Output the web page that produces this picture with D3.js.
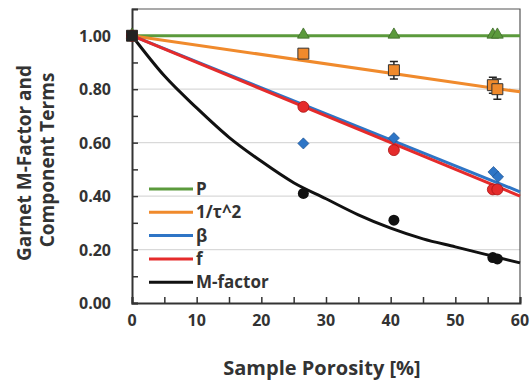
<!DOCTYPE html>
<html>
<head>
<meta charset="utf-8">
<script src="https://cdn.jsdelivr.net/npm/d3@7"></script>
<style>
  body { margin: 0; background: #fff; }
  svg { font-family: "Open Sans", sans-serif; font-weight: bold; }
</style>
</head>
<body>
<svg id="canvas" width="532" height="381"></svg>
<script>
// sample positions [%]
let porosity = [0, 26.5, 40.5, 55.8, 56.5]

// measured points
let pVals = [1.0, 1.0, 1.0, 1.0, 1.0]
let tauVals = [1.0, 0.933, 0.871, 0.815, 0.80]
let tauErr = [0, 0.01, 0.033, 0.03, 0.038]
let betaX = [0, 26.5, 40.5, 55.9, 56.6]
let betaVals = [1.0, 0.597, 0.617, 0.49, 0.472]
let fVals = [1.0, 0.734, 0.572, 0.425, 0.425]
let mVals = [1.0, 0.41, 0.31, 0.17, 0.165]

// fitted lines
let lineX = [0, 60]
let pLine = [1.0, 1.0]
let tauLine = [1.0, 0.79]
let betaLine = [1.0, 0.416]
let fLine = [1.0, 0.40]
let mCurveX = [0, 5, 10, 15, 20, 25, 30, 35, 40, 45, 50, 55, 60]
let mCurve = [1.0, 0.85, 0.73, 0.62, 0.53, 0.45, 0.39, 0.33, 0.28, 0.24, 0.21, 0.18, 0.15]

let xTicks = [0, 10, 20, 30, 40, 50, 60]
let yTicks = [0, 0.2, 0.4, 0.6, 0.8, 1.0]

let legendNames = ['P', '1/\u03c4^2', '\u03b2', 'f', 'M-factor']
let colors = ['#5b9a3c', '#f08a2c', '#2e75c6', '#e52b2b', '#111111']

let canvas = d3.select('#canvas')

let x = d3.scaleLinear().domain([0, 60]).range([132, 520])
let y = d3.scaleLinear().domain([0, 1.1]).range([303, 9])

// gridlines
canvas.selectAll('.grid')
    .data([0.2, 0.4, 0.6, 0.8])
    .enter()
    .append('line')
    .attr('x1', x(0)).attr('x2', x(60))
    .attr('y1', d => y(d)).attr('y2', d => y(d))
    .attr('stroke', '#d9d9d9')
    .attr('stroke-width', 1.2)

// frame top/right
canvas.append('path')
    .attr('d', `M${x(0)},${y(1.1)}H${x(60)}V${y(0)}`)
    .attr('fill', 'none')
    .attr('stroke', '#555')
    .attr('stroke-width', 1.2)

// axes
let xAxis = d3.axisBottom(x).tickValues(d3.range(0, 61, 5)).tickSize(-6).tickFormat('')
canvas.append('g')
    .attr('transform', `translate(0,${y(0)})`)
    .call(xAxis)
    .call(g => g.select('.domain').attr('stroke', '#333').attr('stroke-width', 2))
    .call(g => g.selectAll('.tick line').attr('stroke', '#333').attr('stroke-width', 1.5))

let yAxis = d3.axisLeft(y).tickValues(d3.range(0, 11).map(d => d / 10)).tickSize(-6).tickFormat('')
canvas.append('g')
    .attr('transform', `translate(${x(0)},0)`)
    .call(yAxis)
    .call(g => g.select('.domain').attr('stroke', '#333').attr('stroke-width', 2))
    .call(g => g.selectAll('.tick line').attr('stroke', '#333').attr('stroke-width', 1.5))

// tick labels
canvas.selectAll('.xl')
    .data(xTicks)
    .enter()
    .append('text')
    .attr('x', d => x(d))
    .attr('y', 326)
    .attr('text-anchor', 'middle')
    .attr('font-size', 16)
    .attr('fill', '#333')
    .text(d => d)

canvas.selectAll('.yl')
    .data(yTicks)
    .enter()
    .append('text')
    .attr('x', 111)
    .attr('y', d => y(d) + 6)
    .attr('text-anchor', 'end')
    .attr('font-size', 16)
    .attr('fill', '#333')
    .text(d => d.toFixed(2))

// axis titles
canvas.append('text')
    .attr('x', 322)
    .attr('y', 375)
    .attr('text-anchor', 'middle')
    .attr('font-size', 20)
    .attr('fill', '#333')
    .text('Sample Porosity [%]')

canvas.append('text')
    .attr('transform', 'translate(31,163) rotate(-90)')
    .attr('text-anchor', 'middle')
    .attr('font-size', 19)
    .attr('fill', '#333')
    .text('Garnet M-Factor and')

canvas.append('text')
    .attr('transform', 'translate(54,160) rotate(-90)')
    .attr('text-anchor', 'middle')
    .attr('font-size', 19)
    .attr('fill', '#333')
    .text('Component Terms')

// lines
let line = d3.line().x(d => x(d[0])).y(d => y(d[1]))
let curve = d3.line().x(d => x(d[0])).y(d => y(d[1])).curve(d3.curveMonotoneX)

let lines = [pLine, tauLine, betaLine, fLine]
lines.forEach((vals, i) => {
    canvas.append('path')
        .attr('d', line(d3.zip(lineX, vals)))
        .attr('fill', 'none')
        .attr('stroke', colors[i])
        .attr('stroke-width', 3)
})
canvas.append('path')
    .attr('d', curve(d3.zip(mCurveX, mCurve)))
    .attr('fill', 'none')
    .attr('stroke', colors[4])
    .attr('stroke-width', 3)

// error bars on 1/tau^2
let errG = canvas.append('g')
porosity.forEach((px, i) => {
    if (tauErr[i] <= 0) return
    let cx = x(px)
    let y1 = y(tauVals[i] + tauErr[i])
    let y2 = y(tauVals[i] - tauErr[i])
    errG.append('path')
        .attr('d', `M${cx},${y1}V${y2}M${cx - 4},${y1}H${cx + 4}M${cx - 4},${y2}H${cx + 4}`)
        .attr('stroke', '#222')
        .attr('stroke-width', 1.5)
        .attr('fill', 'none')
})

// markers
let tri = d3.symbol().type(d3.symbolTriangle).size(60)
let sq = d3.symbol().type(d3.symbolSquare).size(120)
let dia = d3.symbol().type(d3.symbolSquare).size(62)

canvas.selectAll('.pm')
    .data(d3.zip(porosity, pVals))
    .enter()
    .append('path')
    .attr('d', tri)
    .attr('transform', d => `translate(${x(d[0])},${y(d[1]) - 1})`)
    .attr('fill', colors[0])
    .attr('stroke', '#3d6b27')
    .attr('stroke-width', 0.8)

canvas.selectAll('.tm')
    .data(d3.zip(porosity, tauVals))
    .enter()
    .append('path')
    .attr('d', sq)
    .attr('transform', d => `translate(${x(d[0])},${y(d[1])})`)
    .attr('fill', colors[1])
    .attr('stroke', '#333')
    .attr('stroke-width', 1)

canvas.selectAll('.bm')
    .data(d3.zip(betaX, betaVals))
    .enter()
    .append('path')
    .attr('d', dia)
    .attr('transform', d => `translate(${x(d[0])},${y(d[1])}) rotate(45)`)
    .attr('fill', colors[2])
    .attr('stroke', '#1d4f8c')
    .attr('stroke-width', 0.6)

canvas.selectAll('.fm')
    .data(d3.zip(porosity, fVals))
    .enter()
    .append('circle')
    .attr('cx', d => x(d[0]))
    .attr('cy', d => y(d[1]))
    .attr('r', 5.5)
    .attr('fill', colors[3])
    .attr('stroke', '#a11')
    .attr('stroke-width', 0.8)

canvas.selectAll('.mm')
    .data(d3.zip(porosity, mVals))
    .enter()
    .append('circle')
    .attr('cx', d => x(d[0]))
    .attr('cy', d => y(d[1]))
    .attr('r', 5.5)
    .attr('fill', colors[4])

// origin marker drawn on top as a dark square
canvas.append('path')
    .attr('d', sq)
    .attr('transform', `translate(${x(0)},${y(1)})`)
    .attr('fill', '#222')

// legend
let leg = canvas.append('g')
legendNames.forEach((name, i) => {
    let ly = 189 + i * 23.3
    leg.append('line')
        .attr('x1', 149).attr('x2', 193)
        .attr('y1', ly).attr('y2', ly)
        .attr('stroke', colors[i])
        .attr('stroke-width', 3)
    leg.append('text')
        .attr('x', 196)
        .attr('y', ly + 6)
        .attr('font-size', 17)
        .attr('fill', '#333')
        .text(name)
})
</script>
</body>
</html>
